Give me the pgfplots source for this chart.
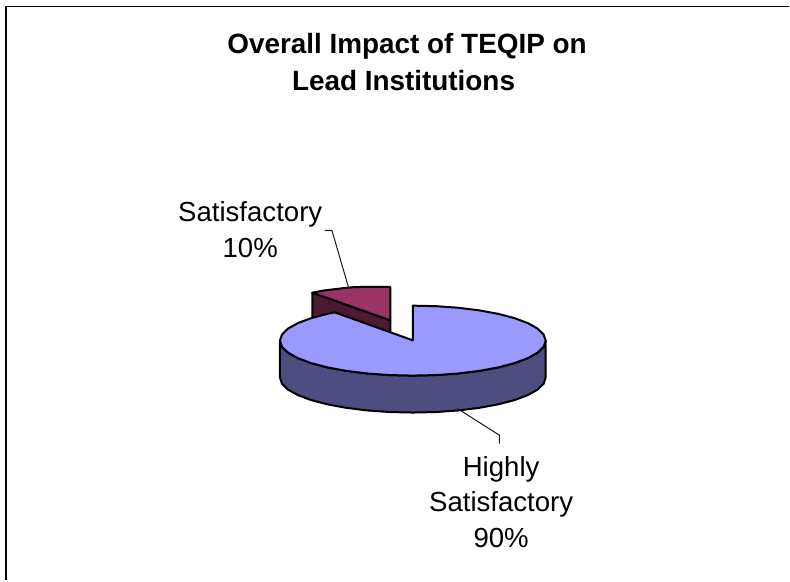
\documentclass[border=0pt]{standalone}
\usepackage{pgfplots}
\pgfplotsset{compat=1.18}
\usepackage{fontspec}
\setmainfont{Liberation Sans}
\definecolor{bluetop}{HTML}{9999FF}
\definecolor{blueside}{HTML}{4D4D80}
\definecolor{redtop}{HTML}{993366}
\definecolor{redside}{HTML}{4D1A33}
\begin{document}
\begin{tikzpicture}
\begin{axis}[
  scale only axis, width=790pt, height=581pt,
  xmin=0, xmax=790, ymin=0, ymax=581, y dir=reverse,
  hide axis, clip=false, anchor=north west, at={(0,0)},
]
\path (axis cs:0,0) rectangle (axis cs:790,581);
% frame: top and left only
\addplot[draw=black, line width=1.8pt] coordinates {(790,6.5) (5.8,6.5) (5.8,581)};
% Satisfactory 10% : exploded slice, side then top
\addplot[fill=redside, draw=black, line width=2pt, line join=round] coordinates {
 (312.7,293) (390.7,320.7) (390.7,358) (312.7,330)} -- cycle;
\addplot[fill=redtop, draw=black, line width=2pt, line join=round] coordinates {
 (312.7,293) (324.2,290.8) (345.2,288.3) (355,287.4) (367.6,287.2) (390.7,287.2) (390.7,320.7)} -- cycle;
% Highly Satisfactory 90% : rim then top
\addplot[fill=blueside, draw=black, line width=2pt, line join=round] coordinates {
 (546.3,341) (544.3,347.1) (538.3,353.0) (528.5,358.5) (515.2,363.5) (498.8,367.8)
 (479.8,371.3) (458.8,373.9) (436.4,375.5) (413.3,376) (390.2,375.5) (367.8,373.9)
 (346.8,371.3) (327.8,367.8) (311.4,363.5) (298.1,358.5) (288.3,353.0) (282.3,347.1) (280.3,341)
 (280.3,378) (282.3,384.1) (288.3,390.0) (298.1,395.5) (311.4,400.5) (327.8,404.8)
 (346.8,408.3) (367.8,410.9) (390.2,412.5) (413.3,413) (436.4,412.5) (458.8,410.9)
 (479.8,408.3) (498.8,404.8) (515.2,400.5) (528.5,395.5) (538.3,390.0) (544.3,384.1) (546.3,378)} -- cycle;
\addplot[fill=bluetop, draw=black, line width=2pt, line join=round] coordinates {
 (413.3,340.7) (413.3,306) (436.4,306.5) (458.8,308.1) (479.8,310.7) (498.8,314.2)
 (515.2,318.5) (528.5,323.5) (538.3,329.0) (544.3,334.9) (546.3,341) (544.3,347.1)
 (538.3,353.0) (528.5,358.5) (515.2,363.5) (498.8,367.8) (479.8,371.3) (458.8,373.9)
 (436.4,375.5) (413.3,376) (390.2,375.5) (367.8,373.9) (346.8,371.3) (327.8,367.8)
 (311.4,363.5) (298.1,358.5) (288.3,353.0) (282.3,347.1) (280.3,341) (282.3,334.9)
 (288.3,329.0) (298.1,323.5) (311.4,318.5) (327.8,314.2) (335.1,312.7)} -- cycle;
% leader lines
\addplot[draw=black!90, line width=1pt] coordinates {(325,230.7) (332.3,230.7) (349,288)};
\addplot[draw=black!90, line width=1pt] coordinates {(458,409) (500,435.7) (500,444)};
% text
\node[anchor=base] at (axis cs:407.5,53.3) {\fontsize{27.9}{30}\selectfont\bfseries Overall Impact of TEQIP on};
\node[anchor=base] at (axis cs:404,90.7) {\fontsize{27.9}{30}\selectfont\bfseries Lead Institutions};
\node[anchor=base] at (axis cs:250.5,221.7) {\fontsize{27.6}{30}\selectfont Satisfactory};
\node[anchor=base] at (axis cs:250.5,258) {\fontsize{27.6}{30}\selectfont 10\%};
\node[anchor=base] at (axis cs:501.7,476.7) {\fontsize{27.6}{30}\selectfont Highly};
\node[anchor=base] at (axis cs:501.7,512.5) {\fontsize{27.6}{30}\selectfont Satisfactory};
\node[anchor=base] at (axis cs:501.7,548.5) {\fontsize{27.6}{30}\selectfont 90\%};
\end{axis}
\end{tikzpicture}
\end{document}
